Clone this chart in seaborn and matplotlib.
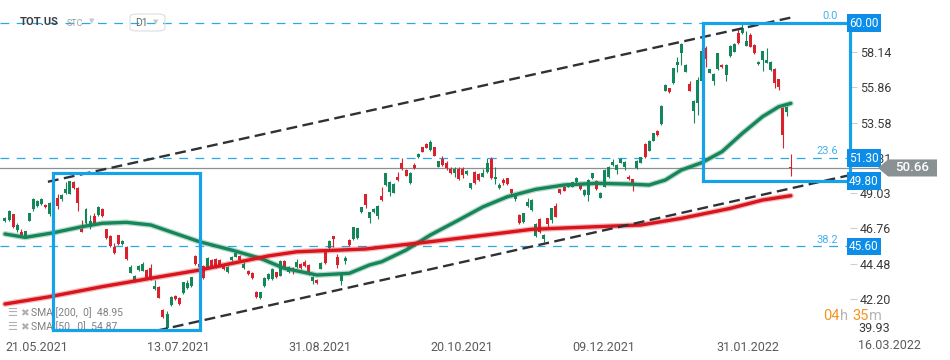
import numpy as np
import pandas as pd
import seaborn as sns
import matplotlib.pyplot as plt
from matplotlib.patches import Rectangle, Polygon, FancyBboxPatch
from matplotlib import transforms

## DATA (daily candles)

opens = [47.23, 47.30, 47.67, 46.65, 46.55, 46.27, 47.25, 47.99, 48.20, 48.33,
         48.27, 47.69, 48.55, 48.70, 48.64, 49.02, 49.00, 49.73, 49.38, 46.70,
         47.09, 46.87, 47.58, 47.62, 47.99, 46.70, 46.29, 45.54, 46.31, 45.73,
         45.56, 43.90, 43.36, 44.07, 44.03, 44.07, 44.22, 42.83, 43.00, 41.47,
         40.35, 41.79, 42.39, 42.27, 42.57, 42.93, 43.06, 44.98, 44.44, 44.31,
         44.29, 44.72, 44.76, 44.72, 44.44, 43.96, 44.72, 44.93, 44.98, 44.18,
         44.03, 43.90, 42.67, 42.25, 43.04, 43.47, 43.47, 43.92, 43.70, 44.66,
         43.92, 44.22, 44.25, 44.46, 44.57, 44.40, 43.38, 43.43, 44.16, 45.38,
         45.47, 46.25, 44.89, 43.38, 44.67, 46.01, 46.05, 46.12, 47.79, 48.96,
         47.41, 47.79, 47.56, 48.85, 49.56, 49.13, 49.06, 50.09, 50.96, 50.55,
         49.67, 50.85, 51.37, 51.99, 52.20, 51.82, 51.99, 50.74, 51.22, 51.00,
         50.61, 50.36, 50.57, 50.57, 50.25, 49.35, 50.38, 50.27, 50.09, 50.38,
         51.24, 49.92, 49.38, 49.88, 49.99, 49.28, 48.64, 47.64, 47.15, 48.20,
         47.94, 46.27, 47.36, 46.05, 47.41, 47.30, 48.22, 49.28, 49.45, 49.45,
         49.45, 49.75, 49.56, 48.91, 48.91, 49.99, 49.82, 48.74, 49.45, 50.05,
         50.85, 50.53, 51.00, 50.70, 50.05, 49.92, 50.63, 51.00, 52.20, 51.77,
         52.42, 53.04, 53.49, 55.64, 55.80, 56.12, 57.30, 58.06, 56.87, 56.08,
         54.35, 54.83, 56.30, 58.38, 56.81, 56.29, 57.03, 57.30, 56.66, 57.88,
         58.16, 59.35, 59.35, 58.55, 59.24, 58.59, 57.35, 57.62, 57.45, 56.98,
         57.04, 56.38, 54.55, 54.29, 50.74]
highs = [47.52, 47.95, 47.70, 47.10, 46.75, 46.62, 47.76, 48.70, 48.60, 48.72,
         48.32, 48.45, 48.62, 48.95, 48.95, 49.75, 49.85, 49.85, 49.45, 47.30,
         48.05, 47.60, 47.75, 48.20, 48.05, 46.75, 46.35, 45.80, 46.35, 45.98,
         45.62, 44.40, 43.75, 44.40, 44.60, 44.12, 44.45, 43.40, 43.05, 41.55,
         41.40, 42.40, 42.45, 42.32, 43.32, 43.40, 43.64, 45.02, 44.50, 44.40,
         44.90, 44.78, 44.85, 44.78, 44.48, 44.33, 44.97, 45.25, 45.03, 44.60,
         44.08, 43.95, 42.72, 42.67, 43.62, 43.85, 44.18, 43.96, 44.70, 44.70,
         44.31, 44.26, 44.80, 44.50, 44.70, 44.45, 43.66, 43.48, 44.60, 45.42,
         46.00, 46.30, 45.10, 43.85, 44.95, 46.05, 46.87, 46.80, 48.16, 49.00,
         47.85, 48.05, 48.25, 49.40, 50.35, 49.85, 49.66, 50.40, 51.30, 50.59,
         50.40, 50.95, 51.65, 52.03, 52.30, 52.46, 52.03, 51.13, 51.45, 51.10,
         50.75, 50.75, 50.75, 50.75, 50.52, 49.71, 50.45, 50.31, 50.60, 51.30,
         51.35, 50.70, 49.70, 50.00, 50.03, 49.32, 49.02, 47.68, 47.77, 48.70,
         48.63, 47.08, 47.40, 46.37, 47.45, 48.09, 48.40, 49.32, 49.49, 49.71,
         49.77, 50.05, 49.60, 49.28, 49.92, 50.35, 49.86, 49.10, 50.57, 50.78,
         51.25, 50.89, 51.30, 51.10, 50.20, 49.96, 51.15, 51.39, 52.24, 52.46,
         52.93, 53.08, 54.70, 56.05, 55.84, 57.13, 57.80, 58.74, 57.34, 56.30,
         55.04, 56.55, 58.45, 58.55, 57.07, 56.76, 58.10, 57.34, 57.34, 58.57,
         58.70, 59.60, 59.95, 59.50, 59.40, 58.63, 57.55, 58.24, 58.40, 57.55,
         57.08, 56.42, 54.59, 54.65, 51.56]
lows = [47.18, 47.25, 46.80, 46.50, 46.20, 46.22, 47.22, 47.90, 48.15, 48.30,
        48.08, 47.55, 48.35, 48.02, 48.50, 48.95, 48.98, 49.30, 47.88, 46.50,
        47.05, 46.75, 46.95, 47.58, 47.50, 46.10, 45.58, 45.10, 45.70, 45.68,
        44.70, 43.85, 43.32, 44.02, 43.98, 43.52, 43.40, 42.78, 42.25, 41.00,
        40.20, 41.75, 42.12, 41.80, 42.52, 42.88, 43.00, 44.40, 44.20, 43.50,
        44.25, 44.30, 44.20, 44.25, 44.10, 43.90, 44.68, 44.90, 44.68, 44.13,
        43.76, 43.50, 42.27, 42.20, 43.00, 43.43, 43.43, 43.55, 43.66, 44.20,
        43.88, 43.80, 44.20, 44.15, 44.30, 43.77, 43.15, 43.18, 44.12, 44.45,
        45.43, 45.58, 44.20, 43.10, 44.45, 45.65, 46.00, 46.08, 47.75, 48.10,
        47.10, 47.75, 47.35, 48.50, 49.52, 48.85, 49.02, 49.84, 50.55, 50.12,
        49.63, 50.59, 51.33, 51.67, 51.92, 51.78, 51.41, 50.70, 50.80, 50.50,
        50.27, 50.10, 49.90, 50.00, 50.20, 49.31, 49.63, 49.84, 50.05, 50.34,
        49.95, 49.60, 49.30, 49.55, 49.58, 48.98, 48.50, 47.05, 47.11, 48.16,
        47.90, 46.23, 46.47, 45.85, 46.70, 47.10, 47.47, 48.98, 49.15, 49.41,
        49.41, 49.71, 49.26, 48.87, 48.55, 49.95, 49.24, 48.70, 49.41, 50.01,
        50.81, 50.30, 50.96, 50.50, 49.88, 49.20, 50.59, 50.96, 51.31, 51.73,
        52.38, 52.74, 53.45, 55.60, 55.50, 56.08, 56.87, 57.30, 56.83, 55.60,
        53.58, 54.07, 56.10, 57.20, 56.77, 56.00, 56.99, 57.11, 56.30, 57.84,
        58.12, 58.66, 59.31, 58.51, 58.44, 58.02, 57.31, 56.90, 57.41, 56.94,
        55.80, 55.70, 51.96, 54.00, 50.14]
closes = [47.45, 47.88, 46.83, 47.00, 46.33, 46.59, 47.73, 48.64, 48.55, 48.67,
          48.12, 48.41, 48.38, 48.20, 48.91, 49.28, 49.82, 49.38, 48.41, 46.53,
          48.01, 47.23, 47.00, 48.16, 47.56, 46.16, 45.62, 45.15, 45.75, 45.94,
          44.76, 44.25, 43.70, 44.35, 44.44, 43.57, 43.47, 43.04, 42.29, 41.06,
          41.21, 42.35, 42.18, 41.86, 43.28, 43.21, 43.60, 44.44, 44.30, 43.56,
          44.83, 44.35, 44.25, 44.29, 44.14, 44.29, 44.93, 45.15, 44.72, 44.44,
          43.81, 43.54, 42.31, 42.63, 43.58, 43.81, 44.14, 43.60, 44.66, 44.29,
          44.27, 44.05, 44.61, 44.20, 44.35, 43.81, 43.62, 43.25, 44.55, 44.50,
          45.96, 46.05, 44.40, 43.81, 44.87, 45.70, 46.83, 46.76, 48.12, 48.25,
          47.79, 48.01, 48.20, 48.59, 50.31, 49.77, 49.62, 49.88, 50.59, 50.16,
          50.36, 50.63, 51.58, 51.71, 51.96, 52.31, 51.45, 51.09, 50.85, 50.63,
          50.31, 50.57, 49.96, 50.20, 50.48, 49.67, 49.67, 49.88, 50.36, 50.96,
          49.99, 50.07, 49.56, 49.67, 49.62, 49.02, 48.98, 47.13, 47.73, 48.48,
          48.59, 47.04, 46.51, 46.33, 47.04, 48.05, 47.51, 49.02, 49.19, 49.67,
          49.73, 50.01, 49.30, 49.24, 49.88, 50.31, 49.28, 49.06, 50.53, 50.74,
          51.06, 50.85, 51.22, 51.02, 49.92, 49.62, 51.11, 51.35, 51.35, 52.42,
          52.89, 52.78, 54.66, 56.01, 55.54, 57.09, 57.50, 58.66, 57.30, 55.64,
          55.00, 56.33, 58.20, 57.67, 57.03, 56.72, 58.06, 57.15, 57.30, 58.53,
          58.66, 58.70, 59.67, 58.87, 58.48, 58.06, 57.51, 58.20, 57.62, 57.51,
          56.16, 55.90, 52.78, 54.61, 50.66]

# date axis (label, candle index where it sits)
date_labels = ['21.05.2021', '13.07.2021', '31.08.2021', '20.10.2021',
               '09.12.2021', '31.01.2022', '16.03.2022']
date_pos = [0, 35, 70, 105, 140, 175.5, 210.5]
price_ticks = [42.20, 44.48, 46.76, 49.03, 51.31, 53.58, 55.86, 58.14]
bottom_tick = '39.93'

# moving averages (sampled along the drawn line)
sma50_idx = [0, 5, 12, 19, 24, 30, 36, 42, 48, 56, 63, 69, 75, 77, 85, 90, 93,
             99, 105, 112, 118, 124, 131, 138, 146, 154, 159, 163, 167, 172,
             177, 182, 187, 191, 194]
sma50_val = [46.40, 46.18, 46.48, 46.87, 47.09, 47.15, 46.98, 46.44, 45.90,
             45.36, 44.83, 44.18, 43.86, 43.75, 43.86, 44.40, 44.61, 45.36,
             46.33, 47.30, 48.15, 48.80, 49.28, 49.56, 49.67, 49.62, 49.56,
             49.88, 50.53, 51.00, 51.71, 52.89, 53.97, 54.61, 54.83]
sma200_idx = [0, 11, 24, 36, 48, 56, 65, 72, 89, 105, 122, 130, 146, 157, 167,
              179, 187, 194]
sma200_val = [41.88, 42.35, 43.00, 43.54, 44.07, 44.50, 44.98, 45.25, 45.43,
              45.90, 46.44, 46.70, 46.87, 46.98, 47.41, 48.05, 48.59, 48.87]
sma_legend = ['SMA [200,  0]  48.95', 'SMA [50,  0]  54.87']

# trend channel anchors
upper_idx = [10.6, 194.6]
upper_val = [49.77, 60.40]
lower_idx = [37.5, 208.6]
lower_val = [40.16, 50.20]

# fibo levels and boxes
fib_levels = [60.00, 51.30, 45.60]
fib_names = ['0.0', '23.6', '38.2']
box_a = [11.9, 48.1, 40.20, 50.31]   # x0, x1, y0, y1
box_b = [172.4, 208.5, 49.80, 60.00]
last_price = 50.66

## COLOURS
green = '#14875a'
red = '#d8232f'
sma50_col = '#17855a'
sma200_col = '#d9141c'
blue = '#16a2e8'
label_blue = '#0c8ee8'
dash_dark = '#2e3236'

df = pd.DataFrame({'o': opens, 'h': highs, 'l': lows, 'c': closes})
df['i'] = np.arange(len(df))
df['col'] = np.where(df.c >= df.o, green, red)

sns.set_theme(style='white')
plt.rcParams['font.family'] = ['Roboto', 'DejaVu Sans']

W, H = 950, 360
fig = plt.figure(figsize=(W / 100, H / 100), dpi=100)
ax = fig.add_axes([0, 1 - 335 / H, 850 / W, 335 / H])
ax.set_xlim(-1.23, 208.6)
ax.set_ylim(39.88, 61.50)
for s in ax.spines.values():
    s.set_visible(False)

# fibo dashed lines
for lv in fib_levels:
    ax.axhline(lv, color='#2aa8ea', lw=0.9, ls=(0, (7, 6)), zorder=1)
# last price line
ax.axhline(last_price, color='#8d9091', lw=0.9, xmax=1.035, clip_on=False, zorder=1)

# candles
ax.vlines(df.i, df.l, df.h, colors=df.col, lw=0.8, zorder=2)
body = np.maximum((df.c - df.o).abs(), 0.08)
ax.bar(df.i, body, bottom=np.minimum(df.o, df.c), width=0.74, color=df.col,
       lw=0, zorder=2)

# moving averages
for xs, ys, c in [(sma50_idx, sma50_val, sma50_col), (sma200_idx, sma200_val, sma200_col)]:
    sns.lineplot(x=xs, y=ys, ax=ax, color=c, lw=4.2, alpha=0.3, zorder=3)
    sns.lineplot(x=xs, y=ys, ax=ax, color=c, lw=2.4, zorder=3)

# trend channel
ax.plot(upper_idx, upper_val, color=dash_dark, lw=1.7, ls=(0, (4.6, 2.3)), zorder=4)
ax.plot(lower_idx, lower_val, color=dash_dark, lw=1.7, ls=(0, (4.6, 2.3)), zorder=4)

# boxes
for bx in [box_a, box_b]:
    ax.add_patch(Rectangle((bx[0], bx[2]), bx[1] - bx[0], bx[3] - bx[2], fill=False,
                           ec=blue, lw=2.3, zorder=6, clip_on=False))

# axes ticks
ax.yaxis.tick_right()
ax.set_yticks(price_ticks)
ax.set_yticklabels(['%.2f' % v for v in price_ticks])
ax.tick_params(axis='y', length=5, width=0.8, color='#cfcfcf', pad=2,
               labelsize=9, labelcolor='#3a3a3a')
ax.set_xticks(date_pos[:-1])
ax.set_xticklabels(date_labels[:-1], ha='left')
ax.tick_params(axis='x', length=4, width=0.8, color='#d5d5d5', pad=0,
               labelsize=9, labelcolor='#5a5a5a')
xdax = transforms.blended_transform_factory(ax.transData, ax.transAxes)
ax.text(date_pos[-1], -4 / 335, date_labels[-1], transform=xdax, ha='left', va='top',
        fontsize=9, color='#5a5a5a', clip_on=False)
ax.text(1 + 8 / 850, 6 / 335, bottom_tick, transform=ax.transAxes, ha='left',
        va='center', fontsize=9, color='#3a3a3a', clip_on=False)

# right side labels
fdy = transforms.blended_transform_factory(fig.transFigure, ax.transData)
for lv in fib_levels + [box_b[2]]:
    ax.text(849 / W, lv, '%.2f' % lv, transform=fdy, ha='left', va='center',
            fontsize=8.5, color='white', clip_on=False, zorder=8,
            bbox=dict(boxstyle='square,pad=0.2', fc=label_blue, ec='none'))
for lv, nm in zip(fib_levels, fib_names):
    ax.text(838 / W, lv + 0.12, nm, transform=fdy, ha='right', va='bottom',
            fontsize=8, color='#45b2ec', clip_on=False, zorder=8)

tag = Polygon([(878 / W, last_price), (888 / W, last_price + 0.55), (937 / W, last_price + 0.55),
               (937 / W, last_price - 0.55), (888 / W, last_price - 0.55)],
              closed=True, fc='#8a9193', ec='none', transform=fdy, clip_on=False, zorder=8)
ax.add_patch(tag)
ax.text(912 / W, last_price, '%.2f' % last_price, transform=fdy, ha='center', va='center',
        fontsize=9.5, color='white', weight='medium', clip_on=False, zorder=9)

# header
fig.text(20 / W, 1 - 22 / H, 'TOT.US', fontsize=8, weight='bold', color='#3a3f44', va='center')
fig.text(67 / W, 1 - 23 / H, 'STC', fontsize=6.5, color='#a0a0a0', va='center')
fig.text(89 / W, 1 - 21 / H, '▼', fontsize=5, color='#c8c8c8', va='center',
         family=['DejaVu Sans'])
fig.patches.append(FancyBboxPatch((130 / W, 1 - 31 / H), 35 / W, 17 / H,
                                  boxstyle='round,pad=0,rounding_size=0.008',
                                  transform=fig.transFigure, fc='none', ec='#dddddd', lw=0.8))
fig.text(135 / W, 1 - 23 / H, 'D1', fontsize=7.5, color='#666666', va='center')
fig.text(153 / W, 1 - 22 / H, '▼', fontsize=5, color='#c8c8c8', va='center',
         family=['DejaVu Sans'])

# sma legend
for k, txt in enumerate(sma_legend):
    yy = 1 - (313 + 14 * k) / H
    ax.text(7 / W, yy, '☰', transform=fig.transFigure, fontsize=8, color='#b0b0b0',
            va='center', family=['DejaVu Sans'], zorder=1, clip_on=False)
    ax.text(20 / W, yy, '✖', transform=fig.transFigure, fontsize=7.5, color='#b0b0b0',
            va='center', family=['DejaVu Sans'], zorder=1, clip_on=False)
    ax.text(31 / W, yy, txt, transform=fig.transFigure, fontsize=7.5, color='#808080',
            va='center', zorder=1, clip_on=False)

# countdown
fig.text(823 / W, 1 - 316 / H, '04', fontsize=10.5, color='#f7941d', va='center')
fig.text(840 / W, 1 - 316 / H, 'h', fontsize=10.5, color='#b5b5b5', va='center')
fig.text(852 / W, 1 - 316 / H, '35', fontsize=10.5, color='#f7941d', va='center')
fig.text(869 / W, 1 - 316 / H, 'm', fontsize=10.5, color='#b5b5b5', va='center')

plt.savefig('out.png', dpi=100)
